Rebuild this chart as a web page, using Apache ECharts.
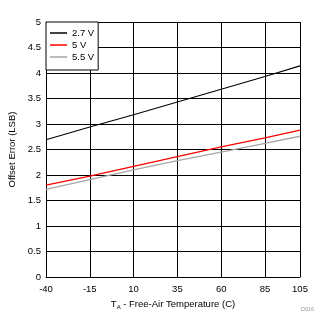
<!DOCTYPE html>
<html><head><meta charset="utf-8">
<script src="https://cdn.jsdelivr.net/npm/echarts@6/dist/echarts.min.js"></script>
<style>html,body{margin:0;padding:0;background:#fff}#c{width:329px;height:329px}</style>
</head><body><div id="c"></div>
<script>
const temps = [-40, -15, 10, 35, 60, 85, 105];
const v27 = [2.69, 2.94, 3.18, 3.43, 3.68, 3.93, 4.14];
const v50 = [1.80, 1.98, 2.17, 2.36, 2.55, 2.73, 2.88];
const v55 = [1.72, 1.91, 2.10, 2.28, 2.45, 2.62, 2.76];
const seriesNames = ['2.7 V', '5 V', '5.5 V'];
const colors = ['#000000', '#ff0000', '#a6a6a6'];
const X_MIN = -40, X_MAX = 105;
const FONT = 'Liberation Sans';
const FS = 9.5;

const chart = echarts.init(document.getElementById('c'), null, {renderer: 'canvas'});
const mk = arr => temps.map((t, i) => [t - X_MIN, arr[i]]);
chart.setOption({
  animation: false,
  textStyle: {fontFamily: FONT},
  grid: {left: 46, right: 29, top: 22, bottom: 52, containLabel: false, outerBoundsMode: 'none'},
  legend: {
    left: 46, top: 22, orient: 'vertical',
    backgroundColor: '#fff', borderColor: '#000', borderWidth: 1, borderRadius: 0,
    padding: [5, 4, 7, 4], itemGap: 0, itemWidth: 17, itemHeight: 1.5,
    icon: 'rect',
    textStyle: {fontFamily: FONT, fontSize: FS, color: '#000', lineHeight: 12},
    data: seriesNames
  },
  xAxis: {
    type: 'value', min: 0, max: X_MAX - X_MIN, interval: 25,
    axisLine: {show: true, onZero: false, lineStyle: {color: '#000', width: 1}},
    axisTick: {show: false},
    splitLine: {show: true, lineStyle: {color: '#000', width: 1}},
    axisLabel: {color: '#000', fontSize: FS, margin: 7, formatter: v => String(v + X_MIN)},
    name: '{a|T}{s|A}{a| - Free-Air Temperature (C)}',
    nameLocation: 'middle', nameGap: 19,
    nameTextStyle: {
      rich: {
        a: {fontFamily: FONT, fontSize: FS, color: '#000', lineHeight: 12},
        s: {fontFamily: FONT, fontSize: 6, color: '#000', lineHeight: 12, verticalAlign: 'bottom', padding: [4, 0, 0, 0]}
      }
    }
  },
  yAxis: {
    type: 'value', min: 0, max: 5, interval: 0.5,
    axisLine: {show: true, lineStyle: {color: '#000', width: 1}},
    axisTick: {show: false},
    splitLine: {show: true, lineStyle: {color: '#000', width: 1}},
    axisLabel: {color: '#000', fontSize: FS, margin: 5},
    name: 'Offset Error (LSB)', nameLocation: 'middle', nameGap: 24,
    nameTextStyle: {fontFamily: FONT, fontSize: FS, color: '#000'}
  },
  graphic: [{
    type: 'text', left: 301, top: 306,
    style: {text: 'D016', fontFamily: FONT, fontSize: 5.5, fill: '#999'}
  }],
  series: [v27, v50, v55].map((arr, i) => ({
    name: seriesNames[i], type: 'line', data: mk(arr),
    showSymbol: false, symbol: 'none',
    lineStyle: {color: colors[i], width: i === 0 ? 1.1 : 1.3},
    itemStyle: {color: colors[i]},
    z: 10 - i
  }))
});
</script></body></html>
